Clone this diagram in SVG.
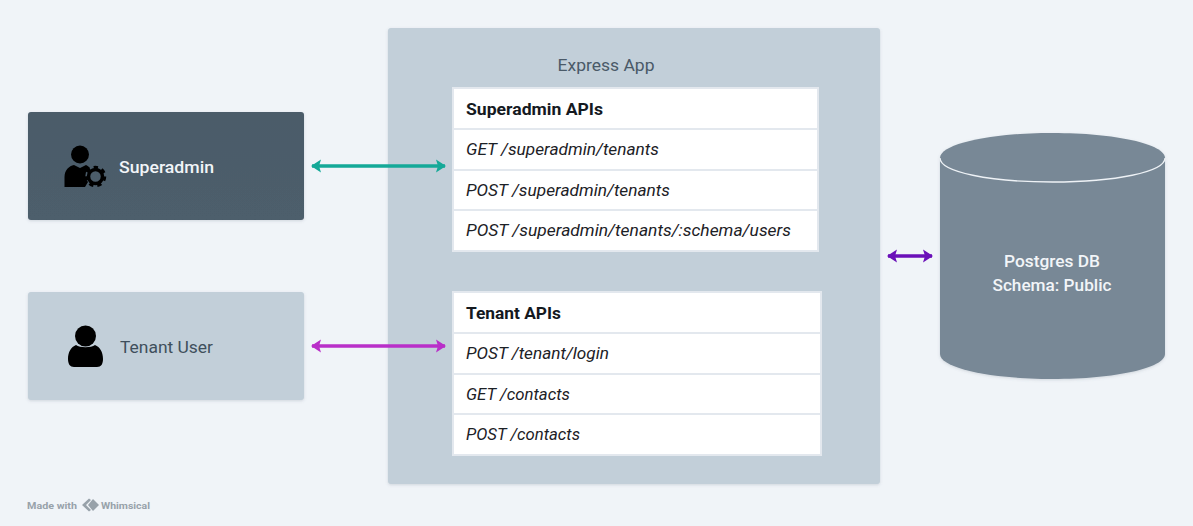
<svg xmlns="http://www.w3.org/2000/svg" width="1193" height="526" viewBox="0 0 1193 526">
<defs>
<linearGradient id="sa" x1="0" y1="0" x2="0" y2="1"><stop offset="0" stop-color="#4b5b69"/><stop offset="1" stop-color="#4d5e6c"/></linearGradient>
<filter id="sh" x="-5%" y="-5%" width="110%" height="112%"><feDropShadow dx="0" dy="1" stdDeviation="1.500" flood-color="#5a6b7a" flood-opacity=".22"/></filter>
<marker id="mT" viewBox="0 0 12 14" refX="11" refY="7" markerWidth="12" markerHeight="14" orient="auto-start-reverse" markerUnits="userSpaceOnUse"><path d="M2 0.500L12 7L2 13.500L4 7Z" fill="#14a998"/></marker>
<marker id="mM" viewBox="0 0 12 14" refX="11" refY="7" markerWidth="12" markerHeight="14" orient="auto-start-reverse" markerUnits="userSpaceOnUse"><path d="M2 0.500L12 7L2 13.500L4 7Z" fill="#b92fc9"/></marker>
<marker id="mP" viewBox="0 0 12 14" refX="11" refY="7" markerWidth="12" markerHeight="14" orient="auto-start-reverse" markerUnits="userSpaceOnUse"><path d="M2 0.500L12 7L2 13.500L4 7Z" fill="#6a0fb8"/></marker>
</defs>
<style>
text{font-family:"Roboto","Liberation Sans",sans-serif}
.lbl{font-size:17px;font-weight:500}
.hd{font-size:17px;font-weight:700;fill:#14191f}
.it{font-size:17px;font-style:italic;fill:#1c2126}
.row{fill:#fff;stroke:#e3e8ee;stroke-width:2}
.wire{fill:none;stroke-width:3.500}
</style>
<rect width="1193" height="526" fill="#f0f4f8"/>
<g id="express-app">
<rect x="388" y="28" width="492" height="456" rx="3" fill="#c2cfd9" filter="url(#sh)"/>
<text x="606" y="71" text-anchor="middle" class="lbl" style="font-weight:400" fill="#4a5a68" textLength="97" lengthAdjust="spacingAndGlyphs">Express App</text>
</g>
<g id="superadmin-apis">
<rect class="row" x="453" y="88" width="365" height="41"/>
<rect class="row" x="453" y="129" width="365" height="41"/>
<rect class="row" x="453" y="170" width="365" height="40"/>
<rect class="row" x="453" y="210" width="365" height="41"/>
<text x="466" y="115" class="hd" textLength="137" lengthAdjust="spacingAndGlyphs">Superadmin APIs</text>
<text x="466" y="155" class="it" textLength="193" lengthAdjust="spacingAndGlyphs">GET /superadmin/tenants</text>
<text x="466" y="196" class="it" textLength="204" lengthAdjust="spacingAndGlyphs">POST /superadmin/tenants</text>
<text x="466" y="236" class="it" textLength="325" lengthAdjust="spacingAndGlyphs">POST /superadmin/tenants/:schema/users</text>
</g>
<g id="tenant-apis">
<rect class="row" x="453" y="292" width="368" height="41"/>
<rect class="row" x="453" y="333" width="368" height="41"/>
<rect class="row" x="453" y="374" width="368" height="40"/>
<rect class="row" x="453" y="414" width="368" height="41"/>
<text x="466" y="319" class="hd" textLength="95" lengthAdjust="spacingAndGlyphs">Tenant APIs</text>
<text x="466" y="359" class="it" textLength="143" lengthAdjust="spacingAndGlyphs">POST /tenant/login</text>
<text x="466" y="400" class="it" textLength="104" lengthAdjust="spacingAndGlyphs">GET /contacts</text>
<text x="466" y="440" class="it" textLength="114" lengthAdjust="spacingAndGlyphs">POST /contacts</text>
</g>
<g id="superadmin">
<rect x="28" y="112" width="276" height="108" rx="3" fill="url(#sa)" filter="url(#sh)"/>
<circle cx="80" cy="154.500" r="9" fill="#000"/>
<path d="M64.500 187V177C64.500 170 69 166 74 165L80 168L86 165C88 166 89 167 90 168L86 172L85 178L88 182L85 187Z" fill="#000"/>
<g transform="translate(95.500 176.500)">
<circle r="7" fill="none" stroke="#000" stroke-width="3.500"/>
<circle r="9" fill="none" stroke="#000" stroke-width="3.500" stroke-dasharray="4.200 3.870"/>
</g>
<text x="119" y="173" class="lbl" fill="#f2f5f8" textLength="95" lengthAdjust="spacingAndGlyphs">Superadmin</text>
</g>
<g id="tenant-user">
<rect x="28" y="292" width="276" height="108" rx="3" fill="#c2cfd9" filter="url(#sh)"/>
<circle cx="85.500" cy="336" r="10.500" fill="#000"/>
<path d="M76 345C80 348 91 348 95 345C100 347 103 352 103 359C103 364 101 367 97 367H74C70 367 68 364 68 359C68 352 71 347 76 345Z" fill="#000"/>
<text x="120" y="353" class="lbl" style="font-weight:400" fill="#3f4f5c" textLength="93" lengthAdjust="spacingAndGlyphs">Tenant User</text>
</g>
<g id="postgres-db">
<path d="M940 158C940 144 990 133 1052.500 133S1165 144 1165 158V354C1165 368 1115 379 1052.500 379S940 368 940 354Z" fill="#788896" filter="url(#sh)"/>
<path d="M940 158C940 172 990 182 1052.500 182S1165 172 1165 158" fill="none" stroke="#eef2f6" stroke-width="1.300"/>
<text x="1052" y="267" text-anchor="middle" class="lbl" fill="#f2f5f8" textLength="96" lengthAdjust="spacingAndGlyphs">Postgres DB</text>
<text x="1052" y="291" text-anchor="middle" class="lbl" fill="#f2f5f8" textLength="119" lengthAdjust="spacingAndGlyphs">Schema: Public</text>
</g>
<g id="connectors">
<path class="wire" d="M312 166H445" stroke="#14a998" marker-start="url(#mT)" marker-end="url(#mT)"/>
<path class="wire" d="M312 346H445" stroke="#b92fc9" marker-start="url(#mM)" marker-end="url(#mM)"/>
<path class="wire" d="M888 256H932" stroke="#6a0fb8" marker-start="url(#mP)" marker-end="url(#mP)"/>
</g>
<g id="watermark">
<text x="27" y="509" font-size="9.500" font-weight="700" fill="#98a2aa" textLength="50" lengthAdjust="spacingAndGlyphs">Made with</text>
<path d="M89 498.500L82 505L89 511.500L91 510L86 505L91 500Z" fill="#98a2aa"/>
<path d="M93 499L99 505L93 511L88 505Z" fill="#98a2aa"/>
<text x="101" y="509" font-size="9.500" font-weight="700" fill="#98a2aa" textLength="49" lengthAdjust="spacingAndGlyphs">Whimsical</text>
</g>
</svg>
